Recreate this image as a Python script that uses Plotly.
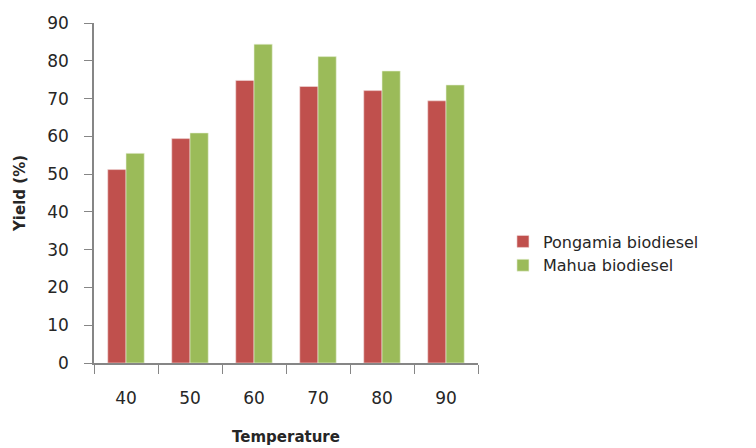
import plotly.graph_objects as go

temperatures = ["40", "50", "60", "70", "80", "90"]
pongamia = [51.2, 59.4, 74.8, 73.2, 72.1, 69.4]
mahua = [55.5, 60.9, 84.4, 81.1, 77.3, 73.6]
y_ticks = [0, 10, 20, 30, 40, 50, 60, 70, 80, 90]

fig = go.Figure()
fig.add_trace(go.Bar(x=temperatures, y=pongamia, name="Pongamia biodiesel",
                     marker=dict(color="#C0504D", line=dict(color="#F2DCDB", width=0.6))))
fig.add_trace(go.Bar(x=temperatures, y=mahua, name="Mahua biodiesel",
                     marker=dict(color="#9BBB59", line=dict(color="#EBF1DE", width=0.6))))

fig.update_layout(
    width=756, height=448,
    margin=dict(l=86, r=286, t=15, b=93),
    paper_bgcolor="white", plot_bgcolor="white",
    barmode="group", bargap=0.43, bargroupgap=0,
    font=dict(family="DejaVu Sans", size=17, color="#262626"),
    showlegend=True,
    legend=dict(x=1.065, y=0.322, xanchor="left", yanchor="middle",
                font=dict(family="DejaVu Sans", size=16, color="#262626"),
                itemwidth=30, tracegroupgap=0, bgcolor="rgba(0,0,0,0)"),
    xaxis=dict(
        type="category", automargin=False,
        showline=True, linecolor="#868686", linewidth=1.5,
        ticks="outside", tickson="boundaries", ticklen=9, tickcolor="#868686",
        ticklabelstandoff=19,
        title=dict(text="<b>Temperature</b>", font=dict(size=15), standoff=24),
        showgrid=False,
    ),
    yaxis=dict(
        range=[0, 90], tickvals=y_ticks, automargin=False,
        showline=True, linecolor="#868686", linewidth=1.5,
        ticks="outside", ticklen=8, tickcolor="#868686",
        ticklabelstandoff=12,
        showgrid=False, zeroline=False,
        title=dict(text="<b>Yield (%)</b>", font=dict(size=15), standoff=18),
    ),
)

fig.write_html("out.html")
